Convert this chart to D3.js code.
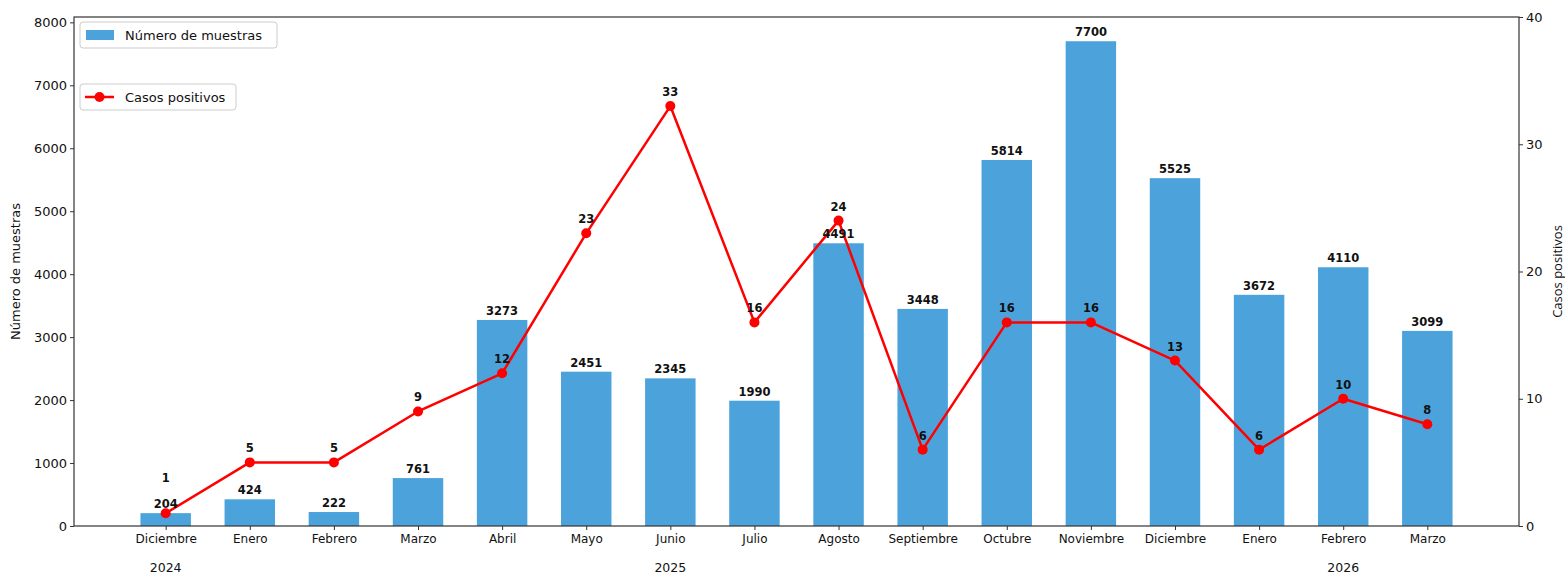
<!DOCTYPE html>
<html><head><meta charset="utf-8">
<script src="https://cdn.jsdelivr.net/npm/d3@7"></script>
<style>body{margin:0;background:#fff}svg{display:block}text{font-family:"DejaVu Sans",sans-serif}</style>
</head><body><svg id="c" width="1565" height="576"></svg>
<script>
const months = ["Diciembre","Enero","Febrero","Marzo","Abril","Mayo","Junio","Julio","Agosto","Septiembre","Octubre","Noviembre","Diciembre","Enero","Febrero","Marzo"];
const years = [{label:"2024", at:0},{label:"2025", at:6},{label:"2026", at:14}];
const muestras = [204,424,222,761,3273,2451,2345,1990,4491,3448,5814,7700,5525,3672,4110,3099];
const casos = [1,5,5,9,12,23,33,16,24,6,16,16,13,6,10,8];
const leftTicks = [0,1000,2000,3000,4000,5000,6000,7000,8000];
const rightTicks = [0,10,20,30,40];

const W=1565,H=576, L=74, R=1519, T=17, B=526;
const svg=d3.select("#c");
const x=d3.scaleLinear().domain([-1.09,15+1.09]).range([L,R]);
const y1=d3.scaleLinear().domain([0,8085]).range([B,T]);
const y2=d3.scaleLinear().domain([0,40]).range([B,T]);
const bw=(x(1)-x(0))*0.6;
const barColor="#4ca3dc";

// bars
svg.append("g").selectAll("rect").data(muestras).join("rect")
 .attr("x",(d,i)=>x(i)-bw/2).attr("width",bw)
 .attr("y",d=>y1(d)).attr("height",d=>B-y1(d)).attr("fill",barColor);

// axes
const ax1=svg.append("g").attr("transform",`translate(${L},0)`)
 .call(d3.axisLeft(y1).tickValues(leftTicks).tickFormat(d3.format("d")).tickSize(4).tickPadding(3));
const ax2=svg.append("g").attr("transform",`translate(${R},0)`)
 .call(d3.axisRight(y2).tickValues(rightTicks).tickFormat(d3.format("d")).tickSize(4).tickPadding(3));
const ax3=svg.append("g").attr("transform",`translate(0,${B})`)
 .call(d3.axisBottom(x).tickValues(d3.range(months.length)).tickFormat(i=>months[i]).tickSize(4).tickPadding(4));
[ax1,ax2,ax3].forEach(a=>{a.select(".domain").remove();a.selectAll("line").attr("stroke","#333");a.selectAll("text").attr("fill","#111");});
ax1.selectAll("text").style("font-size","13px");
ax2.selectAll("text").style("font-size","13px");
ax3.selectAll("text").style("font-size","12px");

// frame
svg.append("rect").attr("x",L).attr("y",T).attr("width",R-L).attr("height",B-T)
 .attr("fill","none").attr("stroke","#333").attr("stroke-width",1.2);

// year labels
svg.append("g").selectAll("text").data(years).join("text")
 .attr("x",d=>x(d.at)).attr("y",572).attr("text-anchor","middle").style("font-size","12.5px").attr("fill","#111").text(d=>d.label);

// axis titles
svg.append("text").attr("transform",`translate(20,${(T+B)/2}) rotate(-90)`).attr("text-anchor","middle")
 .style("font-size","13px").attr("fill","#111").text("Número de muestras");
svg.append("text").attr("transform",`translate(1562,${(T+B)/2}) rotate(-90)`).attr("text-anchor","middle")
 .style("font-size","13px").style("font-family","'Open Sans',sans-serif").attr("fill","#111").text("Casos positivos");

// line
const line=d3.line().x((d,i)=>x(i)).y(d=>y2(d));
svg.append("path").datum(casos).attr("d",line).attr("fill","none").attr("stroke","#ff0000").attr("stroke-width",2.5).attr("stroke-linejoin","round");
svg.append("g").selectAll("circle").data(casos).join("circle")
 .attr("cx",(d,i)=>x(i)).attr("cy",d=>y2(d)).attr("r",5).attr("fill","#ff0000");

// bar labels
svg.append("g").selectAll("text").data(muestras).join("text")
 .attr("x",(d,i)=>x(i)).attr("y",d=>y1(d)-5).attr("text-anchor","middle")
 .style("font-size","11.5px").style("font-weight","bold").attr("fill","#111").text(d=>d);

// point labels (moved above bar label when they collide)
svg.append("g").selectAll("text").data(casos).join("text")
 .attr("x",(d,i)=>x(i))
 .attr("y",(d,i)=>{let py=y2(d)-10; const by=y1(muestras[i])-5; if(Math.abs(py-by)<14) py=by-26; return py;})
 .attr("text-anchor","middle").style("font-size","11.5px").style("font-weight","bold").attr("fill","#111").text(d=>d);

// legends
function legend(yTop,w,label,isLine){
 const g=svg.append("g");
 g.append("rect").attr("x",80).attr("y",yTop).attr("width",w).attr("height",26).attr("rx",3)
  .attr("fill","#fff").attr("fill-opacity",0.85).attr("stroke","#ccc");
 if(isLine){
  g.append("line").attr("x1",85).attr("x2",114).attr("y1",yTop+13).attr("y2",yTop+13).attr("stroke","#ff0000").attr("stroke-width",2.5);
  g.append("circle").attr("cx",99.5).attr("cy",yTop+13).attr("r",5).attr("fill","#ff0000");
 } else {
  g.append("rect").attr("x",86).attr("y",yTop+8).attr("width",28).attr("height",10).attr("fill",barColor);
 }
 g.append("text").attr("x",125).attr("y",yTop+18).style("font-size","13px").attr("fill","#111").text(label);
}
legend(22,197,"Número de muestras",false);
legend(84,156,"Casos positivos",true);
</script></body></html>
